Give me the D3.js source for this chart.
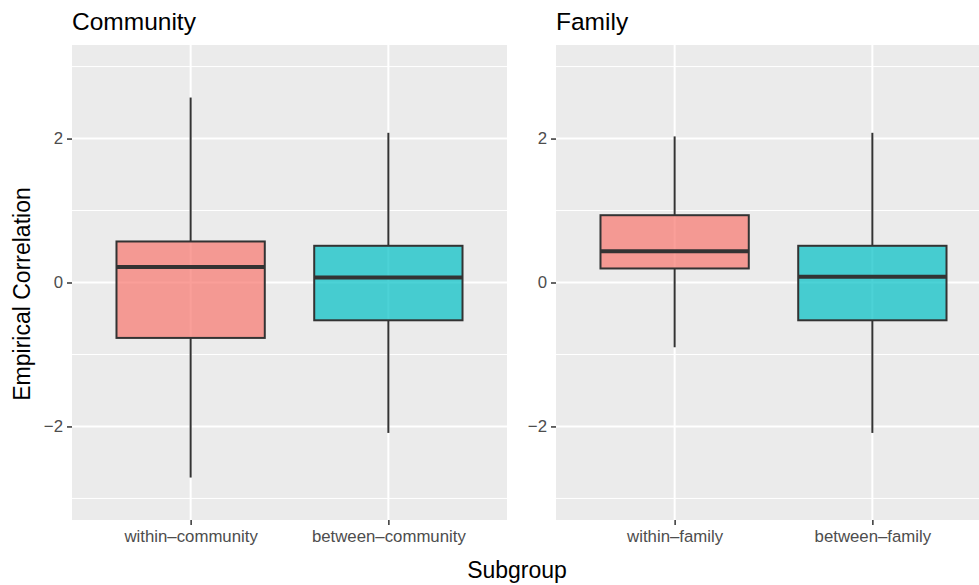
<!DOCTYPE html>
<html>
<head>
<meta charset="utf-8">
<script src="https://cdn.jsdelivr.net/npm/d3@7"></script>
<style>
  body { margin: 0; background: #ffffff; }
  svg { display: block; font-family: "Liberation Sans", Arial, sans-serif; }
</style>
</head>
<body>
<svg id="drawing_region"></svg>
<script>
// facets and their subgroups
const panels = ['Community', 'Family'];
const subgroups = [
    ['within\u2013community', 'between\u2013community'],
    ['within\u2013family', 'between\u2013family']
];
// box statistics, one entry per subgroup within each panel
const whiskerLow  = [[-2.71, -2.09], [-0.90, -2.09]];
const lowerQ      = [[-0.77, -0.525], [0.195, -0.525]];
const medians     = [[0.215, 0.07], [0.435, 0.08]];
const upperQ      = [[0.57, 0.51], [0.935, 0.51]];
const whiskerHigh = [[2.57, 2.08], [2.03, 2.08]];
const fills = ['#F8766D', '#00BFC4'];
const yTicks = [-2, 0, 2];
const yMinor = [-3, -1, 1, 3];

const config = {
    width: 979,
    height: 585,
    panelTop: 45,
    panelBottom: 520,
    panelLeft: [72, 556],
    panelWidth: 435
};

const svg = d3.select('#drawing_region')
    .attr('width', config.width)
    .attr('height', config.height);

const y = d3.scaleLinear()
    .domain([-3.3, 3.3])
    .range([config.panelBottom, config.panelTop]);

panels.forEach((name, p) => {
    const left = config.panelLeft[p];
    const x = d3.scalePoint()
        .domain(subgroups[p])
        .range([left, left + config.panelWidth])
        .padding(0.6);
    const boxW = x.step() * 0.75;

    const g = svg.append('g');

    // panel background
    g.append('rect')
        .attr('x', left)
        .attr('y', config.panelTop)
        .attr('width', config.panelWidth)
        .attr('height', config.panelBottom - config.panelTop)
        .attr('fill', '#EBEBEB');

    // grid
    g.selectAll('.minor')
        .data(yMinor)
        .join('line')
        .attr('x1', left).attr('x2', left + config.panelWidth)
        .attr('y1', d => y(d)).attr('y2', d => y(d))
        .attr('stroke', '#ffffff')
        .attr('stroke-width', 1);

    g.selectAll('.major')
        .data(yTicks)
        .join('line')
        .attr('x1', left).attr('x2', left + config.panelWidth)
        .attr('y1', d => y(d)).attr('y2', d => y(d))
        .attr('stroke', '#ffffff')
        .attr('stroke-width', 2);

    g.selectAll('.vgrid')
        .data(subgroups[p])
        .join('line')
        .attr('x1', d => x(d)).attr('x2', d => x(d))
        .attr('y1', config.panelTop).attr('y2', config.panelBottom)
        .attr('stroke', '#ffffff')
        .attr('stroke-width', 2);

    // boxplots
    const stats = subgroups[p].map((s, i) => ({
        key: s,
        lo: whiskerLow[p][i], q1: lowerQ[p][i], med: medians[p][i],
        q3: upperQ[p][i], hi: whiskerHigh[p][i], fill: fills[i]
    }));

    const box = g.selectAll('.box')
        .data(stats)
        .join('g');

    box.append('line')
        .attr('x1', d => x(d.key)).attr('x2', d => x(d.key))
        .attr('y1', d => y(d.hi)).attr('y2', d => y(d.q3))
        .attr('stroke', '#333333').attr('stroke-width', 2);

    box.append('line')
        .attr('x1', d => x(d.key)).attr('x2', d => x(d.key))
        .attr('y1', d => y(d.q1)).attr('y2', d => y(d.lo))
        .attr('stroke', '#333333').attr('stroke-width', 2);

    box.append('rect')
        .attr('x', d => x(d.key) - boxW / 2)
        .attr('y', d => y(d.q3))
        .attr('width', boxW)
        .attr('height', d => y(d.q1) - y(d.q3))
        .attr('fill', d => d.fill)
        .attr('fill-opacity', 0.7)
        .attr('stroke', '#333333')
        .attr('stroke-width', 2);

    box.append('line')
        .attr('x1', d => x(d.key) - boxW / 2).attr('x2', d => x(d.key) + boxW / 2)
        .attr('y1', d => y(d.med)).attr('y2', d => y(d.med))
        .attr('stroke', '#333333').attr('stroke-width', 4);

    // axes
    const yAxis = g.append('g')
        .attr('transform', `translate(${left},0)`)
        .call(d3.axisLeft(y).tickValues(yTicks).tickSize(5).tickPadding(4)
            .tickFormat(d => d < 0 ? '\u2212' + Math.abs(d) : d));
    const xAxis = g.append('g')
        .attr('transform', `translate(0,${config.panelBottom})`)
        .call(d3.axisBottom(x).tickSize(5).tickPadding(5));

    [yAxis, xAxis].forEach(a => {
        a.select('.domain').remove();
        a.selectAll('.tick line').attr('stroke', '#333333').attr('stroke-width', 1.5);
        a.selectAll('.tick text')
            .attr('fill', '#4D4D4D')
            .attr('font-size', '16.8px')
            .attr('font-family', '"Liberation Sans", Arial, sans-serif');
    });

    // facet title
    svg.append('text')
        .attr('x', left)
        .attr('y', 29.5)
        .attr('font-size', '24.5px')
        .attr('fill', '#000000')
        .text(name);
});

// axis titles
svg.append('text')
    .attr('x', 517)
    .attr('y', 578)
    .attr('text-anchor', 'middle')
    .attr('font-size', '23px')
    .text('Subgroup');

svg.append('text')
    .attr('transform', 'translate(29.5,294) rotate(-90)')
    .attr('text-anchor', 'middle')
    .attr('font-size', '23px')
    .text('Empirical Correlation');
</script>
</body>
</html>
